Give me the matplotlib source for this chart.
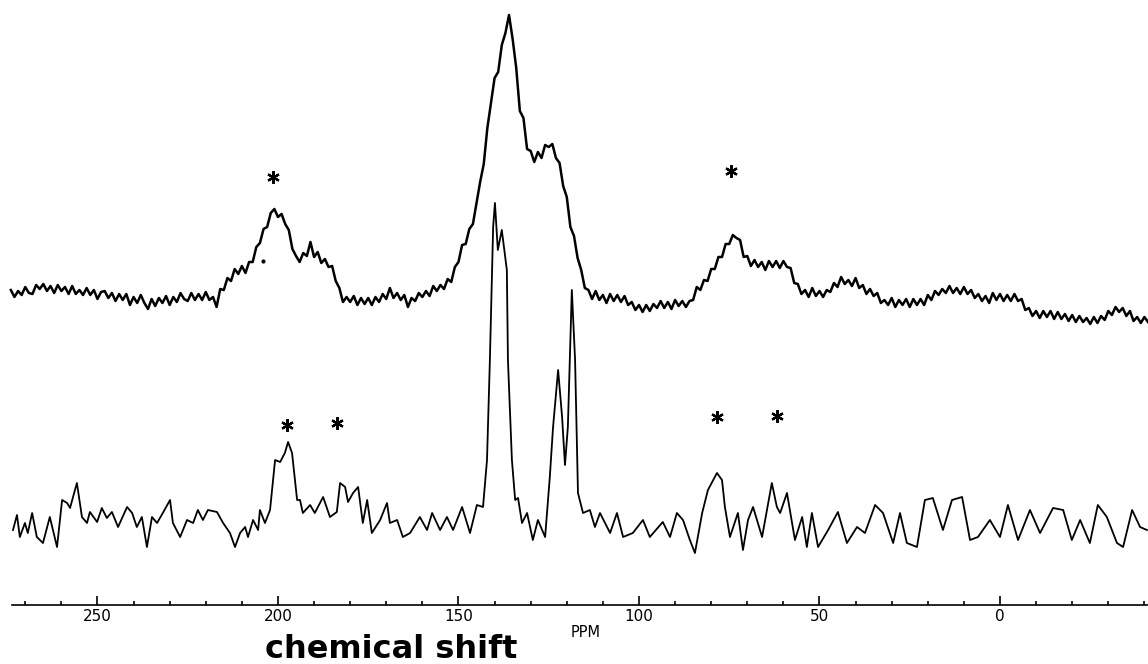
import matplotlib
matplotlib.use("Agg")
import matplotlib.pyplot as plt
from matplotlib.ticker import MultipleLocator
import numpy as np

# --- data ----------------------------------------------------------------
# upper spectrum: sampled every 1 ppm from 274 down to -41 (arbitrary intensity)
top_ppm = np.arange(274, -42, -1)
top_int = [
    10, 3, 9, 5, 13, 7, 6, 15, 11, 16,
    9, 14, 7, 15, 9, 13, 6, 14, 6, 10,
    5, 12, 5, 10, 1, 8, 9, 2, 7, -1,
    6, 0, 6, -5, 3, -3, 5, -3, -9, 1,
    -6, 2, -3, 4, -5, 3, -2, 7, 1, -1,
    7, 0, 6, 0, 8, 0, 3, -7, 11, 10,
    22, 19, 31, 26, 34, 27, 38, 38, 53, 57,
    71, 73, 87, 91, 83, 86, 76, 70, 51, 44,
    38, 47, 44, 58, 43, 48, 37, 41, 33, 34,
    19, 12, -2, 3, -2, 4, -5, 2, -4, 2,
    -5, 3, -2, 6, 1, 12, 2, 7, 0, 5,
    -7, 2, -1, 7, 3, 9, 4, 14, 9, 15,
    11, 21, 18, 33, 38, 55, 56, 71, 76, 97,
    118, 136, 172, 197, 222, 228, 255, 267, 285, 261,
    232, 189, 182, 151, 149, 138, 148, 142, 155, 153,
    156, 142, 137, 114, 103, 73, 64, 42, 30, 12,
    10, 1, 9, 0, 5, -3, 6, -1, 5, -2,
    4, -5, -2, -10, -5, -12, -5, -11, -4, -8,
    -1, -8, -2, -9, 0, -6, -1, -7, -1, 0,
    13, 10, 20, 19, 31, 31, 43, 43, 56, 56,
    65, 62, 60, 43, 44, 34, 40, 33, 38, 30,
    39, 33, 39, 32, 39, 33, 32, 17, 16, 6,
    10, 3, 12, 4, 9, 3, 10, 8, 17, 13,
    23, 16, 20, 14, 22, 12, 15, 6, 11, 4,
    7, -3, 0, -5, 2, -7, 0, -5, 1, -7,
    1, -5, 1, -5, 5, 0, 9, 5, 11, 7,
    14, 7, 12, 6, 13, 6, 10, 2, 6, -1,
    4, -3, 7, 0, 6, -1, 5, -1, 6, -1,
    1, -10, -8, -16, -11, -18, -11, -17, -11, -19,
    -12, -19, -14, -21, -15, -22, -16, -22, -18, -24,
    -17, -23, -16, -20, -11, -15, -7, -12, -8, -16,
    -11, -21, -17, -23, -17, -22,
]

# lower spectrum: points
bot_ppm = [273.4, 272.3, 271.5, 270.1, 269.3, 268.1, 266.8, 265.1, 263.2, 261.2,
           259.8, 258.4, 257.6, 255.7, 254.3, 252.9, 252.1, 250.1, 248.8, 247.4,
           246.0, 244.3, 241.8, 240.4, 239.1, 237.7, 236.3, 234.9, 233.5, 231.9,
           229.9, 229.1, 227.1, 225.2, 223.5, 222.2, 220.8, 219.4, 216.9, 215.2,
           213.3, 211.9, 210.5, 209.1, 208.3, 206.9, 205.5, 205.0, 203.6, 202.2,
           200.8, 199.4, 198.1, 197.2, 196.1, 194.7, 193.9, 193.1, 191.1, 189.8,
           187.5, 185.6, 183.7, 182.8, 181.4, 180.6, 179.2, 177.8, 176.5, 175.3,
           174.0, 171.7, 169.8, 169.0, 167.0, 165.4, 163.4, 160.7, 158.7, 157.3,
           155.1, 153.2, 151.5, 149.0, 146.8, 144.9, 143.2, 142.1, 141.3, 140.4,
           139.9, 139.1, 138.0, 136.6, 136.3, 135.2, 134.3, 133.5, 132.4, 131.0,
           129.4, 128.0, 126.0, 124.7, 123.8, 122.4, 121.3, 120.5, 119.7, 118.6,
           117.7, 116.9, 115.5, 113.6, 112.2, 110.8, 108.0, 106.1, 104.4, 101.7,
           98.9, 97.0, 93.4, 91.4, 89.5, 87.8, 85.9, 84.5, 82.5, 80.9,
           78.4, 77.0, 76.2, 74.8, 72.6, 71.2, 69.8, 68.4, 65.9, 63.2,
           61.8, 60.9, 59.0, 56.8, 54.8, 53.5, 52.1, 50.4, 47.6, 44.9,
           42.4, 39.6, 37.4, 34.6, 32.4, 29.6, 27.7, 25.8, 23.0, 20.8,
           18.6, 15.8, 13.3, 10.5, 8.3, 6.1, 2.8, 0.0, -2.2, -5.0,
           -8.3, -11.1, -14.7, -17.5, -19.9, -22.2, -24.9, -27.1, -29.6, -32.4,
           -34.1, -36.6, -38.8, -40.7]
bot_int = [5, 20, -2, 12, 2, 22, -2, -8, 18, -12,
           35, 32, 27, 52, 18, 12, 23, 13, 27, 17,
           23, 8, 28, 22, 8, 18, -12, 18, 12, 22,
           35, 12, -2, 15, 12, 25, 15, 25, 23, 12,
           2, -12, 2, 8, -2, 15, 5, 25, 12, 25,
           75, 73, 82, 93, 82, 35, 35, 22, 30, 22,
           38, 18, 23, 52, 48, 33, 42, 48, 12, 35,
           2, 15, 32, 12, 15, -2, 2, 18, 5, 22,
           5, 18, 5, 28, 2, 30, 28, 75, 175, 308,
           332, 285, 305, 265, 175, 75, 35, 37, 12, 22,
           -5, 15, -2, 58, 108, 165, 118, 70, 108, 245,
           175, 42, 22, 25, 8, 22, 2, 22, -2, 2,
           15, -2, 13, -2, 22, 15, -5, -18, 22, 45,
           62, 55, 28, -2, 22, -15, 15, 28, -2, 52,
           28, 22, 42, -5, 18, -12, 22, -12, 5, 23,
           -8, 8, 2, 30, 22, -8, 22, -8, -12, 35,
           37, 5, 35, 38, -5, -2, 15, -2, 30, -5,
           25, 2, 27, 25, -5, 15, -8, 30, 18, -8,
           -12, 25, 8, 5]

# asterisks marking spinning side bands
top_star_ppm = [201.4, 74.5]
top_star_int = [123, 129]
bot_star_ppm = [197.5, 183.7, 78.4, 61.8]
bot_star_int = [110, 112, 118, 119]

tick_labels = ["250", "200", "150", "100", "50", "0"]

# --- layout (vertical units = pixels from the bottom of the figure) ---------
top_offset = 364
bot_offset = 129
axis_y = 59

fig = plt.figure(figsize=(11.48, 6.64), dpi=100)
ax = fig.add_axes([0, 0, 1, 1])

ax.plot(top_ppm, np.array(top_int) + top_offset, color="black", lw=1.8)
ax.plot(bot_ppm, np.array(bot_int) + bot_offset, color="black", lw=1.3)

star = (6, 2, 0)   # six-armed asterisk
ax.plot(top_star_ppm, np.array(top_star_int) + top_offset, ls="none",
        marker=star, ms=9, mew=1.6, color="black")
ax.plot(bot_star_ppm, np.array(bot_star_int) + bot_offset, ls="none",
        marker=star, ms=9, mew=1.6, color="black")
ax.plot([204.2], [39 + top_offset], ls="none", marker="o", ms=2, color="black")

ax.set_xlim(277.0, -41.0)
ax.set_ylim(0, 664)

# only the ppm axis is drawn, ticks pointing up into the plot
for side in ["left", "right", "top"]:
    ax.spines[side].set_visible(False)
ax.spines["bottom"].set_position(("data", axis_y))
ax.spines["bottom"].set_bounds(273.7, -41.0)
ax.spines["bottom"].set_linewidth(1.2)
ax.yaxis.set_visible(False)
ax.set_xticks([250, 200, 150, 100, 50, 0])
ax.set_xticklabels(tick_labels)
ax.xaxis.set_minor_locator(MultipleLocator(10))
ax.tick_params(axis="x", which="major", direction="in", length=6.5, width=1.2,
               pad=3, labelsize=11)
ax.tick_params(axis="x", which="minor", direction="in", length=3, width=1.2)

ax.text(114.7, 31.5, "PPM", fontsize=10.5, ha="center", va="center")
ax.text(203.6, 6, "chemical shift", fontsize=23, fontweight="bold",
        ha="left", va="baseline")

fig.savefig("out.png", dpi=100)
